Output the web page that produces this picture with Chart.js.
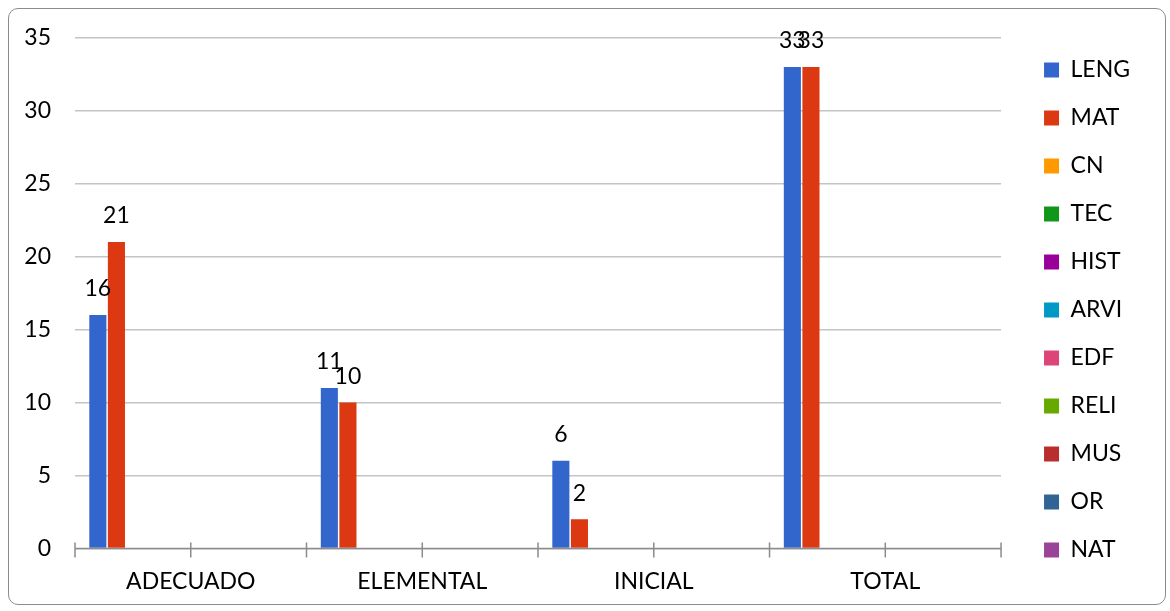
<!DOCTYPE html>
<html>
<head>
<meta charset="utf-8">
<script src="https://cdn.jsdelivr.net/npm/chart.js@4.4.1/dist/chart.umd.min.js"></script>
<style>
  html, body { margin: 0; padding: 0; background: #fff; }
  #wrap { position: relative; width: 1170px; height: 611px; }
  #frame { position: absolute; left: 8px; top: 8px; width: 1158px; height: 597px;
           border: 1px solid #8c8c8c; border-radius: 10px; box-sizing: border-box; pointer-events: none; }
  canvas { display: block; }
</style>
</head>
<body>
<div id="wrap">
  <canvas id="myChart" width="1170" height="611"></canvas>
  <div id="frame"></div>
</div>
<script>
// categories along the x-axis
var niveles = ["ADECUADO", "ELEMENTAL", "INICIAL", "TOTAL"];
// subjects (only LENG and MAT have values)
var leng = [16, 11, 6, 33];
var mat  = [21, 10, 2, 33];
var cn   = [null, null, null, null];
var tec  = [null, null, null, null];
var hist = [null, null, null, null];
var arvi = [null, null, null, null];
var edf  = [null, null, null, null];
var reli = [null, null, null, null];
var mus  = [null, null, null, null];
var or   = [null, null, null, null];
var nat  = [null, null, null, null];
var yTicks = [0, 5, 10, 15, 20, 25, 30, 35];

var font = "Lato, 'Open Sans', sans-serif";

// value labels over the bars
var valueLabels = {
  id: 'valueLabels',
  afterDatasetsDraw: function(chart) {
    var ctx = chart.ctx;
    ctx.save();
    ctx.font = "23px " + font;
    ctx.fillStyle = "#000";
    ctx.textAlign = "center";
    ctx.textBaseline = "middle";
    chart.data.datasets.forEach(function(ds, i) {
      var meta = chart.getDatasetMeta(i);
      meta.data.forEach(function(bar, j) {
        if (ds.data[j] == null) return;
        ctx.fillText(ds.data[j], bar.x, bar.y - 26);
      });
    });
    ctx.restore();
  }
};

// tick marks crossing the x axis, at category edges and centres
var axisTicks = {
  id: 'axisTicks',
  afterDraw: function(chart) {
    var x = chart.scales.x, y = chart.scales.y;
    var ctx = chart.ctx;
    var base = y.getPixelForValue(0);
    var n = niveles.length * 2;
    ctx.save();
    ctx.strokeStyle = "#8c8c8c";
    ctx.lineWidth = 1.5;
    ctx.beginPath();
    ctx.moveTo(x.left, base);
    ctx.lineTo(x.right, base);
    for (var i = 0; i <= n; i++) {
      var px = x.left + i * (x.right - x.left) / n;
      ctx.moveTo(px, base - 6);
      ctx.lineTo(px, base + 9);
    }
    ctx.stroke();
    ctx.restore();
  }
};

// nudge the legend a bit right and up, like the original
var legendShift = {
  id: 'legendShift',
  afterLayout: function(chart) {
    var lg = chart.legend;
    lg.left += 18; lg.right += 18;
    lg.top -= 11; lg.bottom -= 11;
  }
};

var ctx = document.getElementById("myChart");
var myChart = new Chart(ctx, {
  type: 'bar',
  data: {
    labels: niveles,
    datasets: [
      { label: "LENG", data: leng, backgroundColor: "#3366CC" },
      { label: "MAT",  data: mat,  backgroundColor: "#DC3912" },
      { label: "CN",   data: cn,   backgroundColor: "#FF9900" },
      { label: "TEC",  data: tec,  backgroundColor: "#109618" },
      { label: "HIST", data: hist, backgroundColor: "#990099" },
      { label: "ARVI", data: arvi, backgroundColor: "#0099C6" },
      { label: "EDF",  data: edf,  backgroundColor: "#DD4477" },
      { label: "RELI", data: reli, backgroundColor: "#66AA00" },
      { label: "MUS",  data: mus,  backgroundColor: "#B82E2E" },
      { label: "OR",   data: or,   backgroundColor: "#316395" },
      { label: "NAT",  data: nat,  backgroundColor: "#994499" }
    ]
  },
  options: {
    responsive: false,
    animation: false,
    categoryPercentage: 0.883,
    barPercentage: 0.92,
    layout: { padding: { top: 36, left: 0, right: 48, bottom: 5 } },
    plugins: {
      tooltip: { enabled: false },
      legend: {
        position: 'right',
        labels: {
          boxWidth: 15,
          boxHeight: 15,
          padding: 25,
          color: "#000",
          font: { family: font, size: 23 }
        }
      }
    },
    scales: {
      x: {
        grid: { display: false },
        border: { display: false },
        ticks: { color: "#000", padding: 11, font: { family: font, size: 23 } }
      },
      y: {
        min: 0,
        max: 35,
        afterBuildTicks: function(axis) {
          axis.ticks = yTicks.map(function(v) { return { value: v }; });
        },
        afterFit: function(axis) { axis.width = 75; },
        grid: { color: "#c4c4c4", lineWidth: 1.5, drawTicks: false },
        border: { display: false },
        ticks: { color: "#000", padding: 24, font: { family: font, size: 23 } }
      }
    }
  },
  plugins: [valueLabels, axisTicks, legendShift]
});
</script>
</body>
</html>
